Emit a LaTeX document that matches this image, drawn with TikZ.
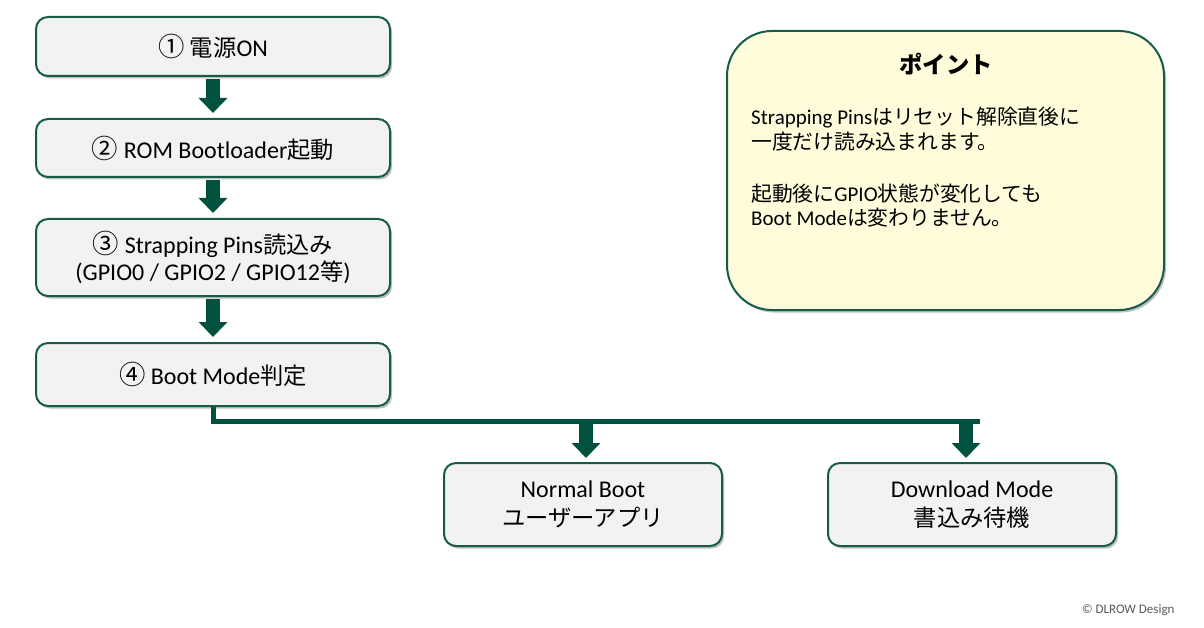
\documentclass[tikz,border=0pt]{standalone}
\usepackage{fontspec}
\setmainfont{Carlito}
\newfontfamily\jp[Scale=0.97]{Noto Sans CJK JP}
\newfontfamily\jpc[Scale=1.1]{Noto Sans CJK JP}
\newfontfamily\jpl[Scale=0.99]{Noto Sans CJK JP}
\usetikzlibrary{arrows.meta,shadows}
\definecolor{dg}{RGB}{0,82,62}
\definecolor{bord}{RGB}{22,92,72}
\definecolor{boxfill}{RGB}{242,242,242}
\definecolor{ptfill}{RGB}{255,252,220}
\newcommand{\J}[1]{{\jp #1}}
\newcommand{\JC}[1]{{\jpc #1}}
\newcommand{\JL}[1]{{\jpl #1}}
\begin{document}
\begin{tikzpicture}[x=1pt,y=-1pt,
  stepbox/.style={draw=bord, line width=2pt, fill=boxfill, rounded corners=12pt,
    drop shadow={shadow xshift=2pt,shadow yshift=-2.5pt,opacity=0.25,fill=black},
    align=center, font=\fontsize{24}{27}\selectfont, inner sep=0pt},
  barrow/.style={draw=dg, line width=14pt, -{Triangle[width=28pt,length=15pt]}, fill=dg},
  branch/.style={draw=dg, line width=5pt}]
\useasboundingbox (0,0) rectangle (1204,628);

\node[stepbox, minimum width=354pt, minimum height=59pt] (b1) at (213,46.5) {\JC{①} \J{電源}ON};
\node[stepbox, minimum width=354pt, minimum height=58pt] (b2) at (213,148) {\JC{②} ROM Bootloader\J{起動}};
\node[stepbox, minimum width=354pt, minimum height=77pt] (b3) at (213,257.5) {\JC{③} Strapping Pins\J{読込み}\\(GPIO0 / GPIO2 / GPIO12\J{等})};
\node[stepbox, minimum width=354pt, minimum height=63pt] (b4) at (213,374.5) {\JC{④} Boot Mode\J{判定}};

\node[stepbox, minimum width=278pt, minimum height=83pt, font=\fontsize{24}{29}\selectfont] (nb) at (583,504.5) {Normal Boot\\\J{ユーザーアプリ}};
\node[stepbox, minimum width=288pt, minimum height=83pt, font=\fontsize{24}{29}\selectfont] (dl) at (972,504.5) {Download Mode\\\J{書込み待機}};

\draw[barrow, shorten <=2pt, shorten >=5pt] (b1.south) -- (b2.north);
\draw[barrow, shorten <=2pt, shorten >=5pt] (b2.south) -- (b3.north);
\draw[barrow, shorten <=2pt, shorten >=5pt] (b3.south) -- (b4.north);

\coordinate (le) at (980,421);
\draw[branch] (b4.south) |- (le);
\coordinate (na) at (586,423);
\coordinate (da) at (966,423);
\draw[barrow, shorten >=4pt] (na) -- (na |- nb.north);
\draw[barrow, shorten >=4pt] (da) -- (da |- dl.north);

\node[draw=bord, line width=2pt, fill=ptfill, rounded corners=45pt,
  drop shadow={shadow xshift=2pt,shadow yshift=-2.5pt,opacity=0.25,fill=black},
  minimum width=437pt, minimum height=279pt, inner sep=0pt] (pt) at (945.5,170.5) {};
\node[font=\jp\bfseries\fontsize{24}{26}\selectfont] (ptt) at (946,64) {ポイント};
\node[anchor=north west, align=left, inner sep=0pt, font=\fontsize{21}{24.5}\selectfont] (ptb) at (751,107)
  {Strapping Pins\JL{はリセット解除直後に}\\
   \JL{一度だけ読み込まれます。}\\[27.5pt]
   \JL{起動後に}GPIO\JL{状態が変化しても}\\
   Boot Mode\JL{は変わりません。}};

\node[font=\fontsize{13}{15}\selectfont, text=black!65, anchor=east] (cr) at (1178,610) {© DLROW Design};
\end{tikzpicture}
\end{document}
